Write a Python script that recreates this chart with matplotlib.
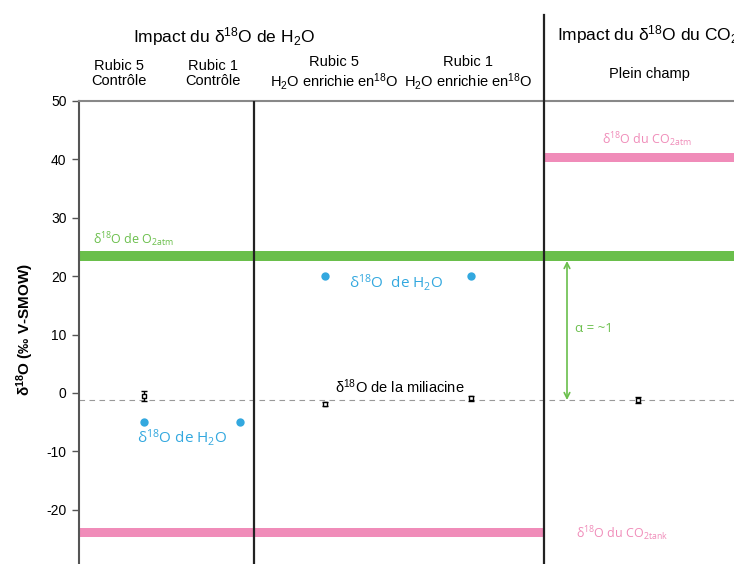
import numpy as np
import matplotlib
matplotlib.use("Agg")
import matplotlib.pyplot as plt

plt.rcParams["font.family"] = ["Liberation Sans", "DejaVu Sans"]
plt.rcParams["mathtext.default"] = "regular"
plt.rcParams["axes.unicode_minus"] = False

# categories (left to right)
categories = ["Rubic 5\nContrôle", "Rubic 1\nContrôle",
              "Rubic 5\nH$_2$O enrichie en$^{18}$O",
              "Rubic 1\nH$_2$O enrichie en$^{18}$O",
              "Plein champ"]

# d18O of miliacine (per mil V-SMOW), NaN where not measured
miliacine = [-0.5, np.nan, -1.9, -0.9, -1.2]
miliacine_err = [0.8, np.nan, 0.3, 0.4, 0.5]

# d18O of irrigation water
water = [-4.9, -4.9, 20.0, 20.0, np.nan]

# reference levels
o2_atm = (22.6, 24.3)
co2_tank = (-24.7, -23.1)
co2_atm = (39.6, 41.1)
miliacine_mean = -1.2

yticks = [50, 40, 30, 20, 10, 0, -10, -20, -30]

# layout (data x units)
cat_pos = [0.65, 1.61, 2.46, 3.92, 5.59]
label_pos = [0.395, 1.34, 2.55, 3.89, 5.70]
sep1, sep2 = 1.75, 4.65
xmax = 7.01

green = "#6abf4b"
pink = "#f08cb9"
blue = "#33a8df"

fig = plt.figure(figsize=(7.34, 5.64), dpi=100)
ax = fig.add_axes([79 / 734, 1 - 568.2 / 564, xmax * 100 / 734, 467.2 / 564])
ax.set_xlim(0, xmax)
ax.set_ylim(-30, 50)

# bands
ax.fill_between([0, xmax], o2_atm[0], o2_atm[1], color=green, lw=0, zorder=2)
ax.fill_between([0, sep2], co2_tank[0], co2_tank[1], color=pink, lw=0, zorder=2)
ax.fill_between([sep2, xmax], co2_atm[0], co2_atm[1], color=pink, lw=0, zorder=2)

# dashed mean line
ax.axhline(miliacine_mean, color="#999999", lw=0.8, ls=(0, (5, 4)), zorder=1)

# separators
ax.plot([sep1, sep1], [-30, 50], color="#222222", lw=1.6, zorder=3)
ax.plot([sep2, sep2], [-30, 64.7], color="#222222", lw=1.6, zorder=3, clip_on=False)

# water points
ax.plot(cat_pos, water, "o", color=blue, ms=6, mec="none", zorder=4)

# miliacine points
ax.errorbar(cat_pos, miliacine, yerr=miliacine_err, fmt="s", ms=3.5, mfc="white",
            mec="black", mew=1.0, ecolor="black", elinewidth=1.0, capsize=2.5,
            capthick=1.0, zorder=5)

# alpha arrow
ax.annotate("", xy=(4.88, o2_atm[0]), xytext=(4.88, miliacine_mean),
            arrowprops=dict(arrowstyle="<->", color=green, lw=1.2,
                            shrinkA=0, shrinkB=0), zorder=4)
ax.text(4.96, 11.0, "α = ~1", color=green, fontsize=9.5, va="center",
        family=["Open Sans", "DejaVu Sans"])

# annotations
ann = dict(family=["Open Sans", "DejaVu Sans"], va="center")
ax.text(0.14, 26.3, "δ$^{18}$O de O$_{2atm}$", color=green, fontsize=9, **ann)
ax.text(2.70, 19.0, "δ$^{18}$O  de H$_2$O", color=blue, fontsize=11, **ann)
ax.text(0.58, -7.7, "δ$^{18}$O de H$_2$O", color=blue, fontsize=11, **ann)
ax.text(5.23, 43.3, "δ$^{18}$O du CO$_{2atm}$", color=pink, fontsize=9, **ann)
ax.text(4.97, -24.0, "δ$^{18}$O du CO$_{2tank}$", color=pink, fontsize=9, **ann)
ax.text(2.56, 1.1, "δ$^{18}$O de la miliacine", color="black", fontsize=10.5,
        va="center")

# category labels above the axes
for xp, lab in zip(label_pos, categories):
    ax.text(xp, 54.7, lab, ha="center", va="center", fontsize=10.5,
            linespacing=1.15, clip_on=False)

ax.text(1.45, 61.0, "Impact du δ$^{18}$O de H$_2$O", ha="center", va="center",
        fontsize=12.5, clip_on=False)
ax.text(4.78, 61.3, "Impact du δ$^{18}$O du CO$_2$", ha="left", va="center",
        fontsize=12.5, clip_on=False)

# axes styling
ax.set_yticks(yticks)
ax.set_xticks([])
ax.tick_params(axis="y", labelsize=10, length=5, width=1.0, color="#555555", pad=4)
ax.spines["left"].set_color("#555555")
ax.spines["left"].set_linewidth(1.5)
ax.spines["top"].set_color("#888888")
ax.spines["top"].set_linewidth(1.5)
ax.spines["right"].set_visible(False)
ax.spines["bottom"].set_visible(False)
ax.set_ylabel("δ$^{18}$O (‰ V-SMOW)", fontsize=11, fontweight="bold", labelpad=6)
ax.yaxis.set_label_coords(-0.062, 0.51)

fig.savefig("out.png", dpi=100)
